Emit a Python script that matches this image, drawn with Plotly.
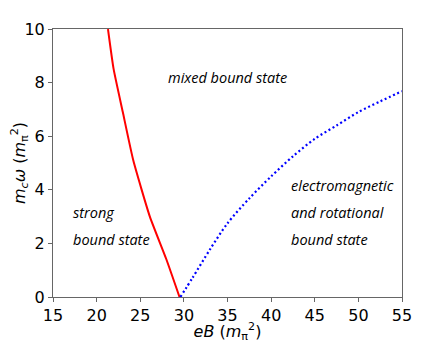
import plotly.graph_objects as go

# strong bound state boundary (red, solid)
red_eB = [29.5, 28.0, 26.1, 24.2, 23.0, 21.95, 21.3]
red_w = [0.0, 1.4, 3.0, 5.1, 6.9, 8.5, 10.0]

# electromagnetic / rotational boundary (blue, dotted)
blue_eB = [29.6, 31.0, 33.0, 35.0, 37.5, 40.0, 42.5, 45.0, 47.5, 50.0, 52.5, 55.0]
blue_w = [0.0, 0.72, 1.78, 2.75, 3.68, 4.5, 5.25, 5.9, 6.4, 6.9, 7.3, 7.68]

labels = [
    ("mixed bound state", 28.0, 8.2),
    ("strong", 17.1, 3.15),
    ("bound state", 17.1, 2.15),
    ("electromagnetic", 42.1, 4.15),
    ("and rotational", 42.1, 3.15),
    ("bound state", 42.1, 2.15),
]

fig = go.Figure()
fig.add_trace(go.Scatter(x=red_eB, y=red_w, mode="lines",
                         line=dict(color="#ff0000", width=2, shape="spline", smoothing=0.5)))
fig.add_trace(go.Scatter(x=blue_eB, y=blue_w, mode="lines",
                         line=dict(color="#0000ff", width=2.2, dash="2px,2.6px",
                                   shape="spline", smoothing=0.8)))

for txt, x, y in labels:
    fig.add_annotation(x=x, y=y, text="<i>" + txt + "</i>", showarrow=False,
                       xanchor="left", yanchor="middle",
                       font=dict(family="Open Sans", size=14.5, color="black"))

axis_style = dict(showgrid=False, zeroline=False, showline=True, mirror=True,
                  linecolor="#666666", linewidth=1, ticks="outside",
                  ticklen=4, tickcolor="#666666", automargin=False,
                  tickfont=dict(family="DejaVu Sans", size=16, color="black"))

fig.update_xaxes(range=[15, 55], dtick=5, **axis_style,
                 title=dict(text="<i>eB</i> (<i>m</i><sub>π</sub><sup>2</sup>)",
                            font=dict(family="DejaVu Sans", size=16, color="black"),
                            standoff=6))
fig.update_yaxes(range=[0, 10], dtick=2, **axis_style,
                 title=dict(text="<i>m<sub>c</sub>ω</i> (<i>m</i><sub>π</sub><sup>2</sup>)",
                            font=dict(family="DejaVu Sans", size=16, color="black"),
                            standoff=4))

# the page body adds an 8px offset, so the figure is sized to fit inside it
fig.update_layout(width=419, height=335, showlegend=False,
                  margin=dict(l=45, r=25, t=21, b=46),
                  plot_bgcolor="white", paper_bgcolor="white")

fig.write_html("out.html")
